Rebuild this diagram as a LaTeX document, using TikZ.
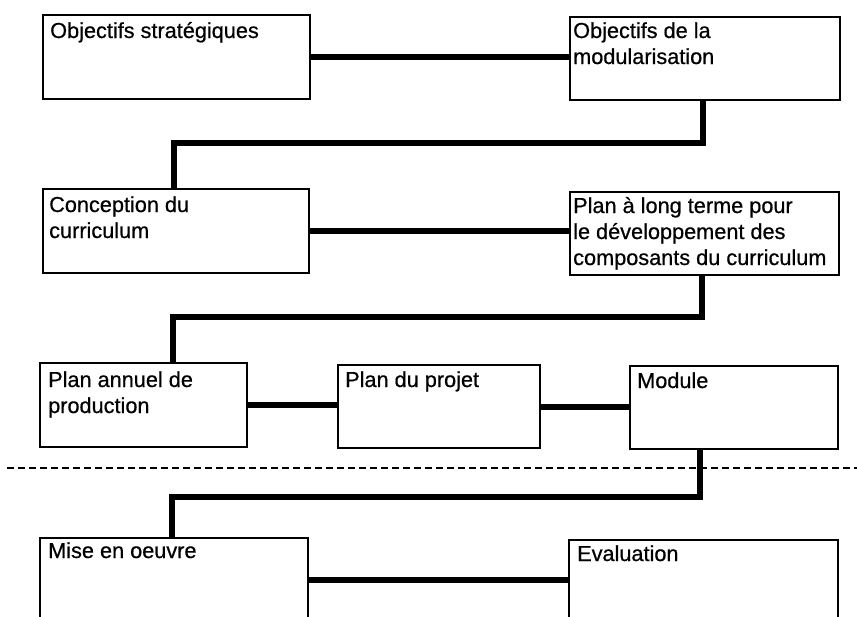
\documentclass[tikz,border=0pt]{standalone}
\usepackage{fontspec}
\setmainfont[FakeBold=0.6]{Liberation Sans}
\begin{document}
\begin{tikzpicture}[x=1pt,y=-1pt,
  box/.style={draw, line width=2.2pt, rectangle, inner sep=0pt, anchor=north west},
  lbl/.style={anchor=base west, inner sep=0pt, align=left,
    font=\fontsize{21.7}{26}\selectfont},
  conn/.style={line width=6pt, line cap=butt, line join=miter},
  sep/.style={line width=1.5pt, dash pattern=on 7pt off 4pt}]
\useasboundingbox (0,0) rectangle (857,616);
\fill[white] (0,0) rectangle (857,616);

% boxes
\node[box, minimum width=267pt, minimum height=84pt] (b1) at (42,14) {};
\node[box, minimum width=270pt, minimum height=83pt] (b2) at (569,16) {};
\node[box, minimum width=266pt, minimum height=84pt] (b3) at (42,188) {};
\node[box, minimum width=269pt, minimum height=83pt] (b4) at (569,191) {};
\node[box, minimum width=207pt, minimum height=84pt] (b5) at (39,362) {};
\node[box, minimum width=202pt, minimum height=83pt] (b6) at (337,364) {};
\node[box, minimum width=208pt, minimum height=83pt] (b7) at (629,365) {};
\node[box, minimum width=268pt, minimum height=84pt] (b8) at (39,537) {};
\node[box, minimum width=269pt, minimum height=84pt] (b9) at (568,539) {};

% labels (the base anchor sits on the last line, 26pt per extra line)
\node[lbl] (t1) at ([shift={(8,24)}]b1.north west) {Objectifs stratégiques};
\node[lbl] (t2) at ([shift={(4,48)}]b2.north west) {Objectifs de la\\modularisation};
\node[lbl] (t3) at ([shift={(7,50)}]b3.north west) {Conception du\\curriculum};
\node[lbl] (t4) at ([shift={(4,74)}]b4.north west) {Plan à long terme pour\\le développement des\\composants du curriculum};
\node[lbl] (t5) at ([shift={(9,51)}]b5.north west) {Plan annuel de\\production};
\node[lbl] (t6) at ([shift={(8,23)}]b6.north west) {Plan du projet};
\node[lbl] (t7) at ([shift={(8,23)}]b7.north west) {Module};
\node[lbl] (t8) at ([shift={(9,21)}]b8.north west) {Mise en oeuvre};
\node[lbl] (t9) at ([shift={(9,22)}]b9.north west) {Evaluation};

% elbow points of the connectors between rows
\coordinate (j1) at (703,143);
\coordinate (j2) at (174,143);
\coordinate (j3) at (702,317);
\coordinate (j4) at (173,317);
\coordinate (j5) at (700,497);
\coordinate (j6) at (172,497);

% connectors
\draw[conn] (b1.east) -- (b1.east -| b2.west);
\draw[conn] (b2.south -| j1) -- (j1) -- (j2) -- (j2 |- b3.north);
\draw[conn] (b3.east) -- (b3.east -| b4.west);
\draw[conn] (b4.south -| j3) -- (j3) -- (j4) -- (j4 |- b5.north);
\draw[conn] (b5.east) -- (b5.east -| b6.west);
\draw[conn] (b6.east) -- (b6.east -| b7.west);
\draw[conn] (b7.south -| j5) -- (j5) -- (j6) -- (j6 |- b8.north);
\draw[conn] (b8.east) -- (b8.east -| b9.west);

% dashed separator
\coordinate (s1) at (7,468);
\coordinate (s2) at (857,468);
\draw[sep] (s1) -- (s2);
\end{tikzpicture}
\end{document}
